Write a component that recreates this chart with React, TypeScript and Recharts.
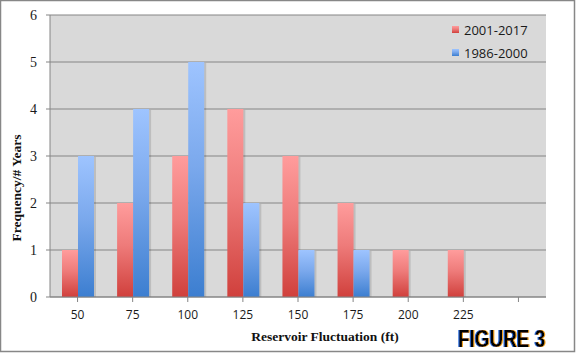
import React from "react";
import { BarChart, Bar, XAxis, YAxis, CartesianGrid, Legend } from "recharts";

const categories = ["50", "75", "100", "125", "150", "175", "200", "225", ""];
const recent = [1, 2, 3, 4, 3, 2, 1, 1, null];
const older = [3, 4, 5, 2, 1, 1, null, null, null];
const yTicks = [0, 1, 2, 3, 4, 5, 6];
const seriesNames = ["2001-2017", "1986-2000"];
const xTitle = "Reservoir Fluctuation (ft)";
const yTitle = "Frequency/# Years";
const figureLabel = "FIGURE 3";

const data = categories.map((c, i) => ({ cat: c, recent: recent[i], older: older[i] }));

const legendColors = ["url(#gRed)", "url(#gBlue)"];

const LegendContent = () => (
  <div style={{ fontFamily: "Open Sans", fontSize: 13, color: "#1a1a1a" }}>
    {seriesNames.map((n, i) => (
      <div key={n} style={{ display: "flex", alignItems: "center", height: 23 }}>
        <svg width={8} height={8} style={{ marginRight: 4 }}>
          <rect x={0} y={0} width={7} height={7} fill={legendColors[i]} />
        </svg>
        <span>{n}</span>
      </div>
    ))}
  </div>
);

const ShadowBar = (props: any) => {
  const { x, y, width, height, fill } = props;
  if (!height || height <= 0) return null;
  return (
    <g>
      <rect x={x + 2} y={y + 1} width={width} height={height - 1} fill="#000" opacity={0.12} />
      <rect x={x} y={y} width={width} height={height} fill={fill} />
    </g>
  );
};

export default function App() {
  return (
    <div style={{ position: "absolute", left: 0, top: 0, width: 576, height: 353, background: "#fff" }}>
      <svg width={0} height={0} style={{ position: "absolute" }}>
        <defs>
          <linearGradient id="gRed" x1="0" y1="0" x2="0" y2="1">
            <stop offset="0%" stopColor="#FF9C9C" />
            <stop offset="45%" stopColor="#EE7B7A" />
            <stop offset="100%" stopColor="#D0403C" />
          </linearGradient>
          <linearGradient id="gBlue" x1="0" y1="0" x2="0" y2="1">
            <stop offset="0%" stopColor="#9EC4FF" />
            <stop offset="45%" stopColor="#7AA8EC" />
            <stop offset="100%" stopColor="#3C7ED0" />
          </linearGradient>
          <filter id="fringe" x="-10%" y="-10%" width="120%" height="120%">
            <feFlood floodColor="#2a6ad8" result="blue" />
            <feComposite in="blue" in2="SourceAlpha" operator="in" result="blueShape" />
            <feOffset in="blueShape" dx={-1} dy={0} result="blueOff" />
            <feFlood floodColor="#f0a020" result="orange" />
            <feComposite in="orange" in2="SourceAlpha" operator="in" result="orangeShape" />
            <feOffset in="orangeShape" dx={1} dy={0} result="orangeOff" />
            <feMerge>
              <feMergeNode in="blueOff" />
              <feMergeNode in="orangeOff" />
              <feMergeNode in="SourceGraphic" />
            </feMerge>
          </filter>
        </defs>
      </svg>
      <BarChart
        width={576}
        height={353}
        data={data}
        margin={{ top: 15, right: 30, left: 0, bottom: 26 }}
        barGap={0}
        barSize={16}
      >
        <CartesianGrid vertical={false} stroke="#858585" strokeWidth={1} fill="#D9D9D9" fillOpacity={1} />
        <XAxis
          dataKey="cat"
          height={30}
          stroke="#858585"
          tickSize={5}
          tickMargin={8}
          interval={0}
          tick={{ fill: "#1a1a1a", fontFamily: "Open Sans", fontSize: 12 }}
        />
        <YAxis
          width={50}
          domain={[0, 6]}
          ticks={yTicks}
          stroke="#858585"
          tickSize={4}
          tickMargin={9}
          interval={0}
          tick={{ fill: "#1a1a1a", fontFamily: "Liberation Serif", fontSize: 14 }}
        />
        <Legend
          layout="vertical"
          align="center"
          verticalAlign="middle"
          wrapperStyle={{ left: 452, top: 18, width: 90, height: 50 }}
          content={<LegendContent />}
        />
        <Bar dataKey="recent" name={seriesNames[0]} fill="url(#gRed)" shape={<ShadowBar />} isAnimationActive={false} />
        <Bar dataKey="older" name={seriesNames[1]} fill="url(#gBlue)" shape={<ShadowBar />} isAnimationActive={false} />
      </BarChart>
      <svg width={576} height={353} style={{ position: "absolute", left: 0, top: 0, pointerEvents: "none" }}>
        <text
          x={0}
          y={0}
          transform="translate(21,188) rotate(-90)"
          textAnchor="middle"
          fontFamily="Liberation Serif"
          fontWeight="bold"
          fontSize={13.5}
          fill="#111"
        >
          {yTitle}
        </text>
        <text x={325} y={341} textAnchor="middle" fontFamily="Liberation Serif" fontWeight="bold" fontSize={13.5} fill="#111">
          {xTitle}
        </text>
        <text
          x={0}
          y={0}
          transform="translate(458,347) scale(0.945,1.19)"
          fontFamily="Liberation Sans"
          fontWeight="bold"
          fontSize={20}
          fill="#000"
          filter="url(#fringe)"
        >
          {figureLabel}
        </text>
        <rect x={0.5} y={0.5} width={574} height={351} fill="none" stroke="#878787" strokeWidth={1.5} />
      </svg>
    </div>
  );
}
